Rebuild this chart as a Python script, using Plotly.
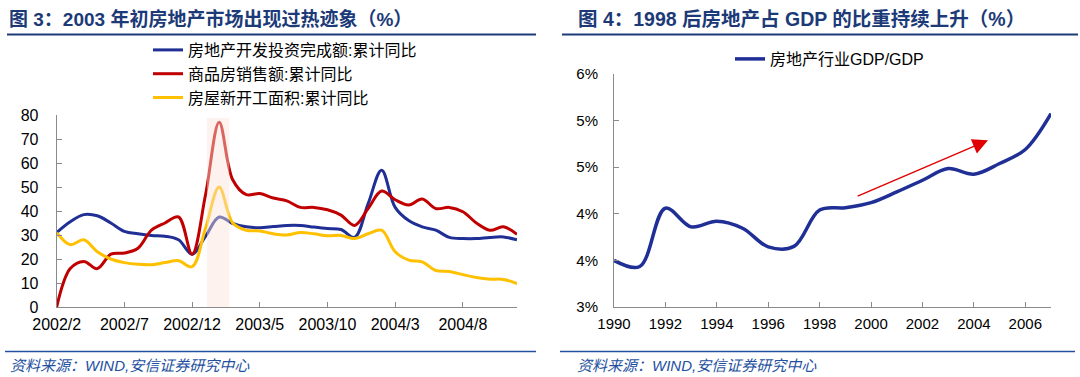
import plotly.graph_objects as go

# ---------------- data ----------------
months = []
for y in (2002, 2003, 2004):
    for m in range(1, 13):
        if y == 2002 and m < 2:
            continue
        months.append(f"{y}/{m}")

invest_yoy = [31, 35.5, 38.5, 38, 35, 31.5, 30.5, 29.8, 29.5, 28, 22, 29.5, 37.5, 34.8,
              33.4, 33, 33.5, 34, 34, 33.3, 32.7, 32.3, 29, 43, 57, 41.5, 36, 33.4, 32,
              29, 28.5, 28.5, 29, 29.2, 28]
sales_yoy = [0, 16, 19, 16, 22, 22.5, 24.5, 32, 35, 37.5, 22, 47, 77, 53, 46.8, 47.3,
             45.4, 44.2, 41.5, 41.5, 40.5, 38.3, 34, 41, 48.3, 44.7, 42.5, 45, 41, 41.5,
             39.7, 35, 32, 33.4, 30.3]
start_yoy = [31, 26, 28, 23, 20, 18.5, 17.8, 17.6, 18.5, 19.3, 16.8, 33, 50, 35, 32,
             31.7, 30.5, 30, 31, 30.5, 29.7, 29.8, 28.5, 30.5, 32, 23, 19.5, 18.8, 15.2,
             14.8, 13.5, 12.3, 11.6, 11.5, 9.8]
left_names = ["房地产开发投资完成额:累计同比", "商品房销售额:累计同比", "房屋新开工面积:累计同比"]
left_ticks = months[::5]

years = list(range(1990, 2008))
re_share = [3.50, 3.435, 4.06, 3.86, 3.92, 3.845, 3.645, 3.65, 4.04, 4.065, 4.12, 4.235,
            4.36, 4.485, 4.425, 4.54, 4.69, 5.075]
right_name = "房地产行业GDP/GDP"
right_tickvals = [3.0, 3.5, 4.0, 4.5, 5.0, 5.5]
right_ticktext = ["3%", "4%", "4%", "5%", "5%", "6%"]
right_xticks = years[:-1:2]

title_left = "图 3：2003 年初房地产市场出现过热迹象（%）"
title_right = "图 4：1998 后房地产占 GDP 的比重持续上升（%）"
source_text = "资料来源：WIND,安信证券研究中心"

# ---------------- styles ----------------
W, H = 1080, 377
FONT = "Liberation Sans, Arial, Noto Sans CJK SC, sans-serif"
TITLE_C = "#1C3A78"
SRC_C = "#2450A0"
AX_C = "#8A8A8A"
BLUE, RED, YEL = "#1F2F95", "#C00000", "#FFC000"

def px(x):
    return x / W

def py(y):
    return 1 - y / H

fig = go.Figure()
for vals, name, col in zip([invest_yoy, sales_yoy, start_yoy], left_names, [BLUE, RED, YEL]):
    fig.add_trace(go.Scatter(x=months, y=vals, name=name, mode="lines",
                             line=dict(color=col, width=3, shape="spline", smoothing=1),
                             xaxis="x", yaxis="y", legend="legend"))
fig.add_trace(go.Scatter(x=years, y=re_share, name=right_name, mode="lines",
                         line=dict(color=BLUE, width=3.5, shape="spline", smoothing=1),
                         xaxis="x2", yaxis="y2", legend="legend2"))

def axis_style(size):
    return dict(showline=True, linecolor=AX_C, linewidth=1, ticks="inside", ticklen=5,
                tickcolor=AX_C, showgrid=False, zeroline=False, automargin=False,
                tickfont=dict(family=FONT, size=size, color="#000"))

fig.update_layout(
    width=W, height=H, margin=dict(l=0, r=0, t=0, b=0, autoexpand=False),
    paper_bgcolor="white", plot_bgcolor="white",
    xaxis=dict(domain=[px(56.7), px(517)], type="category", range=[0, len(months) - 1],
               tickmode="array", tickvals=left_ticks, ticktext=left_ticks,
               anchor="y", ticklabelstandoff=3, **axis_style(16)),
    yaxis=dict(domain=[py(307), py(115)], range=[0, 80], dtick=10, anchor="x",
               ticklabelstandoff=14, **axis_style(16)),
    xaxis2=dict(domain=[px(614), px(1051)], range=[1990, 2007], tickmode="array",
                tickvals=right_xticks, anchor="y2", ticklabelstandoff=3, **axis_style(15)),
    yaxis2=dict(domain=[py(307), py(74)], range=[3, 5.5], tickmode="array",
                tickvals=right_tickvals, ticktext=right_ticktext, anchor="x2",
                ticklabelstandoff=12, **axis_style(15)),
    legend=dict(x=px(148), y=py(33), xanchor="left", yanchor="top",
                bgcolor="rgba(0,0,0,0)", font=dict(family=FONT, size=16, color="#000"),
                itemwidth=30, tracegroupgap=0),
    legend2=dict(x=px(730), y=py(42), xanchor="left", yanchor="top",
                 bgcolor="rgba(0,0,0,0)", font=dict(family=FONT, size=16, color="#000"),
                 itemwidth=30),
    showlegend=True,
)

# highlight band (semi-transparent, above lines)
fig.add_shape(type="rect", xref="x", yref="y", x0=11.1, x1=12.75, y0=0, y1=78.8,
              fillcolor="rgba(250,226,214,0.45)", line=dict(width=0), layer="above")

# title underlines and footer lines
for x0, x1 in [(7, 536), (562, 1078)]:
    fig.add_shape(type="line", xref="paper", yref="paper", x0=px(x0), x1=px(x1),
                  y0=py(34.5), y1=py(34.5), line=dict(color=TITLE_C, width=2))
for x0, x1 in [(5, 536), (560, 1075)]:
    fig.add_shape(type="line", xref="paper", yref="paper", x0=px(x0), x1=px(x1),
                  y0=py(351.5), y1=py(351.5), line=dict(color=SRC_C, width=1.5))

# titles
for txt, x, size in [(title_left, 7, 19), (title_right, 576, 19.5)]:
    fig.add_annotation(text=f"<b>{txt}</b>", xref="paper", yref="paper", x=px(x), y=py(19.5),
                       xanchor="left", yanchor="middle", showarrow=False,
                       font=dict(family=FONT, size=size, color=TITLE_C))
# sources
for x in (8, 575):
    fig.add_annotation(text=f"<i>{source_text}</i>", xref="paper", yref="paper", x=px(x),
                       y=py(365), xanchor="left", yanchor="middle", showarrow=False,
                       font=dict(family=FONT, size=15, color=SRC_C))

# trend arrow
fig.add_annotation(x=2004.55, y=4.788, ax=1999.42, ay=4.183, xref="x2", yref="y2",
                   axref="x2", ayref="y2", text="", showarrow=True, arrowhead=2,
                   arrowsize=2.2, arrowwidth=1.4, arrowcolor="#E00000")

fig.write_html("out.html", config={"displayModeBar": False},
               post_script="document.body.style.margin='0px';"
               "document.body.style.overflow='hidden';")
